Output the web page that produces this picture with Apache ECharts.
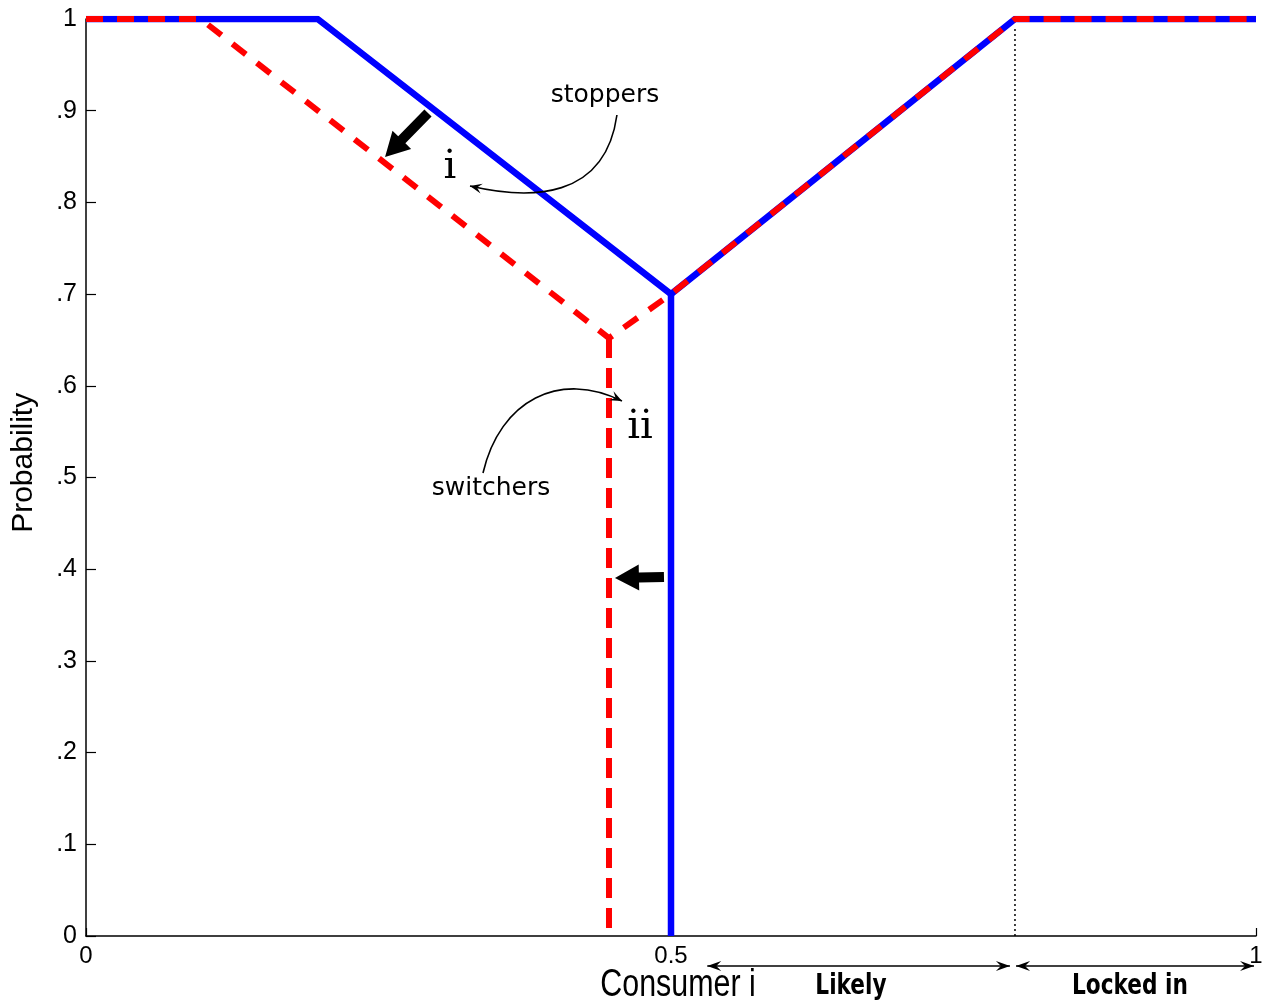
<!DOCTYPE html>
<html><head><meta charset="utf-8">
<script src="https://cdn.jsdelivr.net/npm/echarts@6/dist/echarts.min.js"></script>
<style>html,body{margin:0;padding:0;background:#fff}#c{width:1272px;height:1007px}</style>
</head><body><div id="c"></div>
<script>
// ---- data ----
const yTickValues = [0, 0.1, 0.2, 0.3, 0.4, 0.5, 0.6, 0.7, 0.8, 0.9, 1];
const yTickLabels = ['0', '.1', '.2', '.3', '.4', '.5', '.6', '.7', '.8', '.9', '1'];
const xTickValues = [0, 0.5, 1];
const xTickLabels = ['0', '0.5', '1'];

// blue: before policy (solid)
const blueX = [0, 0.198, 0.5, 0.794, 1];
const blueY = [1, 1, 0.7, 1, 1];
const blueDropX = [0.5, 0.5];
const blueDropY = [0.7, 0];

// red: after policy (dashed)
const redX = [0, 0.098, 0.447, 0.5, 0.794, 1];
const redY = [1, 1, 0.652, 0.7, 1, 1];
const redDropX = [0.447, 0.447];
const redDropY = [0.652, 0];

const lockInX = 0.794;

// annotations (data coordinates)
const stoppersText = {label: 'stoppers', x: 0.4436, y: 0.9171};
const switchersText = {label: 'switchers', x: 0.3462, y: 0.4875};
const romanI = {label: 'i', x: 0.3111, y: 0.8375};
const romanII = {label: 'ii', x: 0.4735, y: 0.554};
const stoppersCurve = [[0.4538, 0.8953], [0.4436, 0.8026], [0.3795, 0.8026], [0.3282, 0.8179]];
const switchersCurve = [[0.3393, 0.5049], [0.3538, 0.5845], [0.4051, 0.6172], [0.4581, 0.5834]];
const thickArrows = [
  [[0.2923, 0.8975], [0.2556, 0.8495]],
  [[0.494, 0.3915], [0.4521, 0.3904]]
];
const bottomRanges = [
  {label: 'Likely', from: 0.531, to: 0.7897, labelX: 0.6538},
  {label: 'Locked in', from: 0.7949, to: 0.9983, labelX: 0.8923}
];
const xAxisName = 'Consumer i';
const yAxisName = 'Probability';

const zip = (xs, ys) => xs.map((x, i) => [x, ys[i]]);

const chart = echarts.init(document.getElementById('c'), null, {renderer: 'canvas'});
chart.setOption({
  animation: false,
  backgroundColor: '#fff',
  grid: {left: 86, right: 16, top: 19, bottom: 71, outerBoundsMode: 'none'},
  xAxis: {
    type: 'value', min: 0, max: 1, interval: 0.5,
    axisLine: {show: true, onZero: false, lineStyle: {color: '#000', width: 1.5}},
    axisTick: {show: true, inside: true, length: 8, lineStyle: {color: '#000', width: 1.2}},
    splitLine: {show: false},
    axisLabel: {
      margin: 8, color: '#000', fontSize: 24, fontFamily: 'Liberation Sans',
      formatter: v => { const i = xTickValues.indexOf(+v.toFixed(2)); return i >= 0 ? xTickLabels[i] : ''; }
    }
  },
  yAxis: {
    type: 'value', min: 0, max: 1, interval: 0.1,
    axisLine: {show: true, lineStyle: {color: '#000', width: 1.5}},
    axisTick: {show: true, inside: true, length: 10, lineStyle: {color: '#000', width: 1.2}},
    splitLine: {show: false},
    axisLabel: {
      margin: 9, color: '#000', fontSize: 25, fontFamily: 'Liberation Sans',
      formatter: v => { const i = yTickValues.indexOf(+v.toFixed(2)); return i >= 0 ? yTickLabels[i] : ''; }
    }
  },
  series: [
    {type: 'line', data: [[lockInX, 0], [lockInX, 0.99]], symbol: 'none', z: 1,
     lineStyle: {color: '#000', width: 1.5, type: [2, 3]}},
    {type: 'line', data: zip(blueX, blueY), symbol: 'none', z: 2,
     lineStyle: {color: '#0000ff', width: 6.5, join: 'round'}},
    {type: 'line', data: zip(blueDropX, blueDropY), symbol: 'none', z: 2,
     lineStyle: {color: '#0000ff', width: 6.5}},
    {type: 'line', data: zip(redX, redY), symbol: 'none', z: 3,
     lineStyle: {color: '#ff0000', width: 6, type: [17, 14]}},
    {type: 'line', data: zip(redDropX, redDropY), symbol: 'none', z: 3,
     lineStyle: {color: '#ff0000', width: 6, type: [20, 10]}}
  ]
});

function P(pt) { return chart.convertToPixel({gridIndex: 0}, pt); }

const g = [];
function txt(t, px, font, extra) {
  g.push(Object.assign({type: 'text', x: px[0], y: px[1], z: 100,
    style: {text: t, font: font, fill: '#000', align: 'center', verticalAlign: 'middle'}}, extra || {}));
}
txt(stoppersText.label, P([stoppersText.x, stoppersText.y]), '25px "DejaVu Sans"');
txt(switchersText.label, P([switchersText.x, switchersText.y]), '25px "DejaVu Sans"');
txt(romanI.label, P([romanI.x, romanI.y]), '40px "DejaVu Serif"');
txt(romanII.label, P([romanII.x, romanII.y]), '40px "DejaVu Serif"');

// y axis name (rotated)
const yMid = P([0, 0.516]);
g.push({type: 'text', x: 24, y: yMid[1], rotation: Math.PI / 2, z: 100,
  style: {text: yAxisName, font: '30px "Liberation Sans"', fill: '#000', align: 'center', verticalAlign: 'middle'}});

function curveArrow(c) {
  const p = c.map(P);
  g.push({type: 'bezierCurve', z: 100, shape: {x1: p[0][0], y1: p[0][1], cpx1: p[1][0], cpy1: p[1][1],
    cpx2: p[2][0], cpy2: p[2][1], x2: p[3][0], y2: p[3][1]},
    style: {stroke: '#000', lineWidth: 1.6, fill: null}});
  const dx = p[3][0] - p[2][0], dy = p[3][1] - p[2][1];
  const L = Math.hypot(dx, dy), ux = dx / L, uy = dy / L, nx = -uy, ny = ux;
  const tip = p[3], len = 12, w = 5;
  g.push({type: 'polygon', z: 101, shape: {points: [
    tip,
    [tip[0] - ux * len + nx * w, tip[1] - uy * len + ny * w],
    [tip[0] - ux * len * 0.6, tip[1] - uy * len * 0.6],
    [tip[0] - ux * len - nx * w, tip[1] - uy * len - ny * w]
  ]}, style: {fill: '#000'}});
}
curveArrow(stoppersCurve);
curveArrow(switchersCurve);

function thickArrow(a) {
  const t = P(a[0]), h = P(a[1]);
  const dx = h[0] - t[0], dy = h[1] - t[1];
  const L = Math.hypot(dx, dy), ux = dx / L, uy = dy / L, nx = -uy, ny = ux;
  const headLen = 24, headW = 13, shaftW = 5;
  const b = [h[0] - ux * headLen, h[1] - uy * headLen];
  g.push({type: 'polygon', z: 100, shape: {points: [
    [t[0] + nx * shaftW, t[1] + ny * shaftW],
    [b[0] + nx * shaftW, b[1] + ny * shaftW],
    [b[0] + nx * headW, b[1] + ny * headW],
    h,
    [b[0] - nx * headW, b[1] - ny * headW],
    [b[0] - nx * shaftW, b[1] - ny * shaftW],
    [t[0] - nx * shaftW, t[1] - ny * shaftW]
  ]}, style: {fill: '#000'}});
}
thickArrows.forEach(thickArrow);

// bottom range arrows
const axisY = P([0, 0])[1];
bottomRanges.forEach(r => {
  const a = P([r.from, 0])[0], b = P([r.to, 0])[0];
  const y = axisY + 30;
  g.push({type: 'line', z: 100, shape: {x1: a, y1: y, x2: b, y2: y}, style: {stroke: '#000', lineWidth: 1.6}});
  [[a, 1], [b, -1]].forEach(([x, d]) => {
    g.push({type: 'polygon', z: 100, shape: {points: [[x, y], [x + d * 14, y - 5], [x + d * 9, y], [x + d * 14, y + 5]]},
      style: {fill: '#000'}});
  });
  txt(r.label, [P([r.labelX, 0])[0], axisY + 51], 'bold 28px "DejaVu Sans Condensed"', {scaleX: 0.86});
});
// x axis name
const cx = P([0.506, 0])[0];
g.push({type: 'text', x: cx, y: axisY + 50, z: 100, scaleX: 0.8, scaleY: 1,
  style: {text: xAxisName, font: '38px "Liberation Sans"', fill: '#000', align: 'center', verticalAlign: 'middle'}});

chart.setOption({graphic: g});
</script></body></html>
